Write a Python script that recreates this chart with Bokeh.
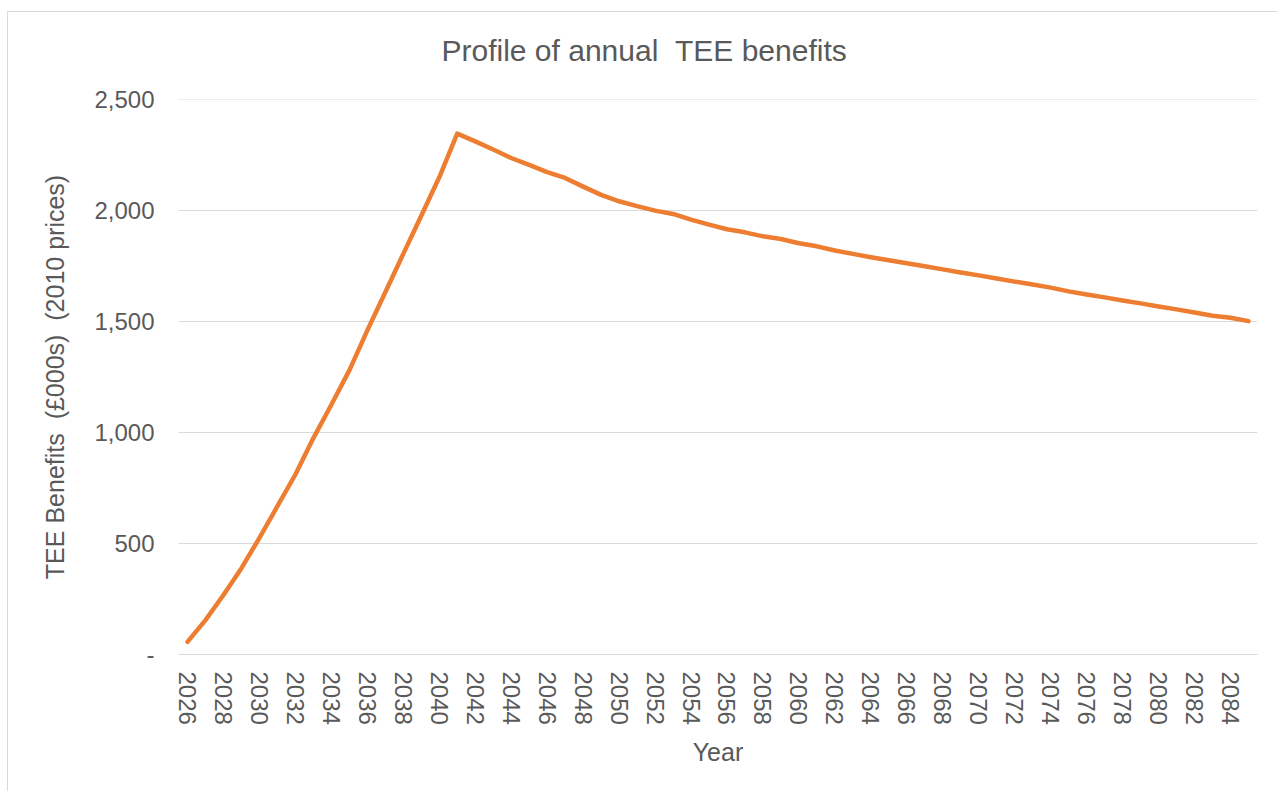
from bokeh.plotting import figure
from bokeh.models import FixedTicker, NumeralTickFormatter, Range1d, Title
from bokeh.embed import file_html
from bokeh.resources import INLINE

years = list(range(2026, 2086))
benefits = [
    57, 155, 268, 389, 525, 668, 811, 975, 1125, 1280,
    1460, 1632, 1805, 1977, 2150, 2347, 2312, 2275, 2237, 2206,
    2173, 2147, 2108, 2071, 2042, 2020, 2000, 1985, 1959, 1937,
    1916, 1902, 1884, 1872, 1853, 1839, 1820, 1805, 1790, 1776,
    1763, 1749, 1735, 1721, 1708, 1694, 1680, 1667, 1653, 1636,
    1622, 1609, 1595, 1582, 1568, 1555, 1541, 1526, 1517, 1502,
]
x_tick_years = list(range(2026, 2086, 2))
y_ticks = [0, 500, 1000, 1500, 2000, 2500]
title_text = "Profile of annual \u00a0TEE benefits"
y_title = "TEE Benefits \u00a0(£000s) \u00a0(2010 prices)"
x_title = "Year"

FONT = "Liberation Sans"
TXT = "#595959"
GRID = "#d9d9d9"

W, H = 1270, 780
p = figure(
    width=W, height=H,
    output_backend="svg", toolbar_location=None,
    x_range=Range1d(2025.5, 2085.5), y_range=Range1d(0, 2500.5),
    min_border_left=170, min_border_right=21, min_border_top=87, min_border_bottom=138,
)
p.margin = (11, 0, 0, 7)
p.styles = {"border-top": "1px solid #d9d9d9", "border-left": "1px solid #d9d9d9"}
p.outline_line_color = None
p.background_fill_color = "white"
p.border_fill_color = "white"

# blank spacer closest to the plot area, then the real title above it
spacer = Title(text="\u00a0", text_font=FONT, text_font_size="10px", standoff=20)
p.add_layout(spacer, "above")
main_title = Title(text=title_text, align="left", offset=263, standoff=0,
                   text_font=FONT, text_font_size="30px", text_font_style="normal",
                   text_color=TXT)
p.add_layout(main_title, "above")

p.line(years, benefits, line_color="#ED7D31", line_width=4.5,
       line_cap="round", line_join="round")

p.xgrid.grid_line_color = None
p.ygrid.grid_line_color = GRID
p.ygrid.grid_line_width = 1
p.ygrid.ticker = FixedTicker(ticks=y_ticks)

xa = p.xaxis[0]
xa.ticker = FixedTicker(ticks=x_tick_years)
xa.major_label_orientation = "vertical"
xa.major_tick_line_color = None
xa.minor_tick_line_color = None
xa.axis_line_color = GRID
xa.major_label_text_font = FONT
xa.major_label_text_font_size = "24px"
xa.major_label_text_color = TXT
xa.major_label_standoff = 11
xa.axis_label = x_title
xa.axis_label_text_font = FONT
xa.axis_label_text_font_size = "25px"
xa.axis_label_text_font_style = "normal"
xa.axis_label_text_color = TXT
xa.axis_label_standoff = 10

ya = p.yaxis[0]
ya.ticker = FixedTicker(ticks=y_ticks)
ya.formatter = NumeralTickFormatter(format="0,0")
ya.major_label_overrides = {0: "-"}
ya.major_tick_line_color = None
ya.minor_tick_line_color = None
ya.axis_line_color = None
ya.major_label_text_font = FONT
ya.major_label_text_font_size = "24px"
ya.major_label_text_color = TXT
ya.major_label_standoff = 18
ya.axis_label = y_title
ya.axis_label_text_font = FONT
ya.axis_label_text_font_size = "25px"
ya.axis_label_text_font_style = "normal"
ya.axis_label_text_color = TXT
ya.axis_label_standoff = 22

open("out.html", "w").write(file_html(p, INLINE))
